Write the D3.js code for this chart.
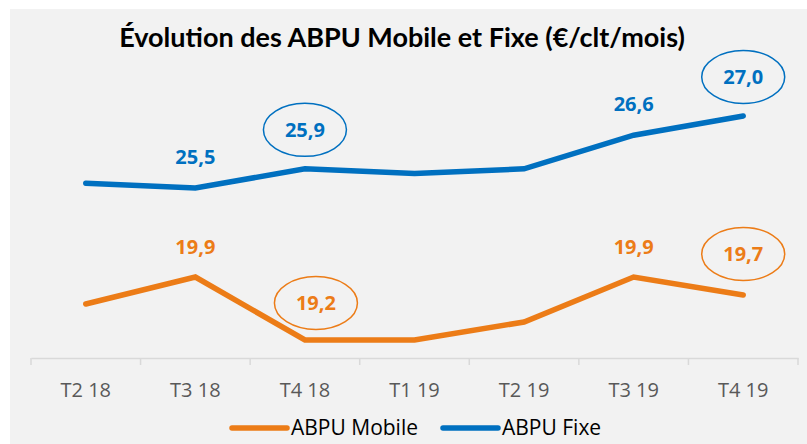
<!DOCTYPE html>
<html>
<head>
<meta charset="utf-8">
<script src="https://cdn.jsdelivr.net/npm/d3@7"></script>
<style>
  body { margin: 0; background: #fff; }
  svg { display: block; }
</style>
</head>
<body>
<div id="chart"></div>
<script>
var width = 807,
    height = 444;

var quarters = ["T2 18", "T3 18", "T4 18", "T1 19", "T2 19", "T3 19", "T4 19"];
var mobile = [19.6, 19.9, 19.2, 19.2, 19.4, 19.9, 19.7];
var fixe = [25.6, 25.5, 25.9, 25.8, 25.9, 26.6, 27.0];
// which points get a label, and which of those are circled
var mobileLabels = [null, "plain", "circle", null, null, "plain", "circle"];
var fixeLabels = [null, "plain", "circle", null, null, "plain", "circle"];

var orange = "#ec7c17",
    blue = "#0070c0";

var svg = d3.select("#chart").append("svg")
    .attr("width", width)
    .attr("height", height);

// grey chart area
svg.append("rect")
    .attr("x", 10).attr("y", 9)
    .attr("width", width - 10).attr("height", height - 9)
    .attr("fill", "#f2f2f2");

svg.append("text")
    .attr("x", 402).attr("y", 47)
    .attr("text-anchor", "middle")
    .style("font-family", "Lato, 'Open Sans', sans-serif")
    .style("font-weight", "bold")
    .style("font-size", "27px")
    .attr("fill", "#000")
    .text("Évolution des ABPU Mobile et Fixe (€/clt/mois)");

var x = d3.scaleBand()
    .domain(quarters)
    .range([31, 798]);

// two hidden value axes, as in the original
var yFixe = d3.scaleLinear().domain([25.5, 27.0]).range([188, 116]);
var yMobile = d3.scaleLinear().domain([19.2, 19.9]).range([340, 277]);

var xAxis = d3.axisBottom(x).tickSize(0).tickPadding(0);
var gx = svg.append("g")
    .attr("transform", "translate(0,358)")
    .call(xAxis);
gx.select(".domain").attr("stroke", "#d9d9d9").attr("stroke-width", 1.5);
gx.selectAll(".tick text")
    .attr("dy", 0).attr("y", 39)
    .style("font-family", "'Open Sans', sans-serif")
    .style("font-size", "20px")
    .attr("fill", "#595959");

// tick marks on category boundaries
var bounds = quarters.map(function(q) { return x(q); }).concat([x.range()[1]]);
gx.selectAll(".bound")
    .data(bounds)
    .enter().append("line")
    .attr("class", "bound")
    .attr("x1", function(d) { return d; })
    .attr("x2", function(d) { return d; })
    .attr("y1", 0).attr("y2", 7)
    .attr("stroke", "#d9d9d9")
    .attr("stroke-width", 1.5);

function cx(i) { return x(quarters[i]) + x.bandwidth() / 2; }

function drawSeries(values, y, color, labels, offsets) {
    var line = d3.line()
        .x(function(d, i) { return cx(i); })
        .y(function(d) { return y(d); });

    svg.append("path")
        .datum(values)
        .attr("d", line)
        .attr("fill", "none")
        .attr("stroke", color)
        .attr("stroke-width", 5.5)
        .attr("stroke-linecap", "round")
        .attr("stroke-linejoin", "miter");

    values.forEach(function(v, i) {
        if (!labels[i]) return;
        var off = offsets[i];
        var lx = cx(i) + off[0],
            ly = y(v) + off[1];
        if (labels[i] == "circle") {
            svg.append("ellipse")
                .attr("cx", lx).attr("cy", ly)
                .attr("rx", 41.5).attr("ry", 26.5)
                .attr("fill", "none")
                .attr("stroke", color)
                .attr("stroke-width", 1.5);
        }
        svg.append("text")
            .attr("x", lx).attr("y", ly)
            .attr("dy", "0.35em")
            .attr("text-anchor", "middle")
            .style("font-family", "'Open Sans', sans-serif")
            .style("font-weight", "bold")
            .style("font-size", "20px")
            .attr("fill", color)
            .text(d3.format(".1f")(v).replace(".", ","));
    });
}

drawSeries(fixe, yFixe, blue, fixeLabels,
    [null, [0, -31], [0, -39], null, null, [0, -31], [0, -39]]);
drawSeries(mobile, yMobile, orange, mobileLabels,
    [null, [0, -30], [11, -37], null, null, [0, -30], [0, -41]]);

// legend
var legend = [
    { name: "ABPU Mobile", color: orange, x: 232 },
    { name: "ABPU Fixe", color: blue, x: 443 }
];
var lg = svg.selectAll(".legend")
    .data(legend)
    .enter().append("g")
    .attr("class", "legend")
    .attr("transform", function(d) { return "translate(" + d.x + ",428)"; });
lg.append("line")
    .attr("x1", 0).attr("x2", 55)
    .attr("stroke", function(d) { return d.color; })
    .attr("stroke-width", 5.5)
    .attr("stroke-linecap", "round");
lg.append("text")
    .attr("x", 59).attr("dy", "0.35em")
    .style("font-family", "'Open Sans', sans-serif")
    .style("font-size", "21px")
    .attr("fill", "#000")
    .text(function(d) { return d.name; });
</script>
</body>
</html>
